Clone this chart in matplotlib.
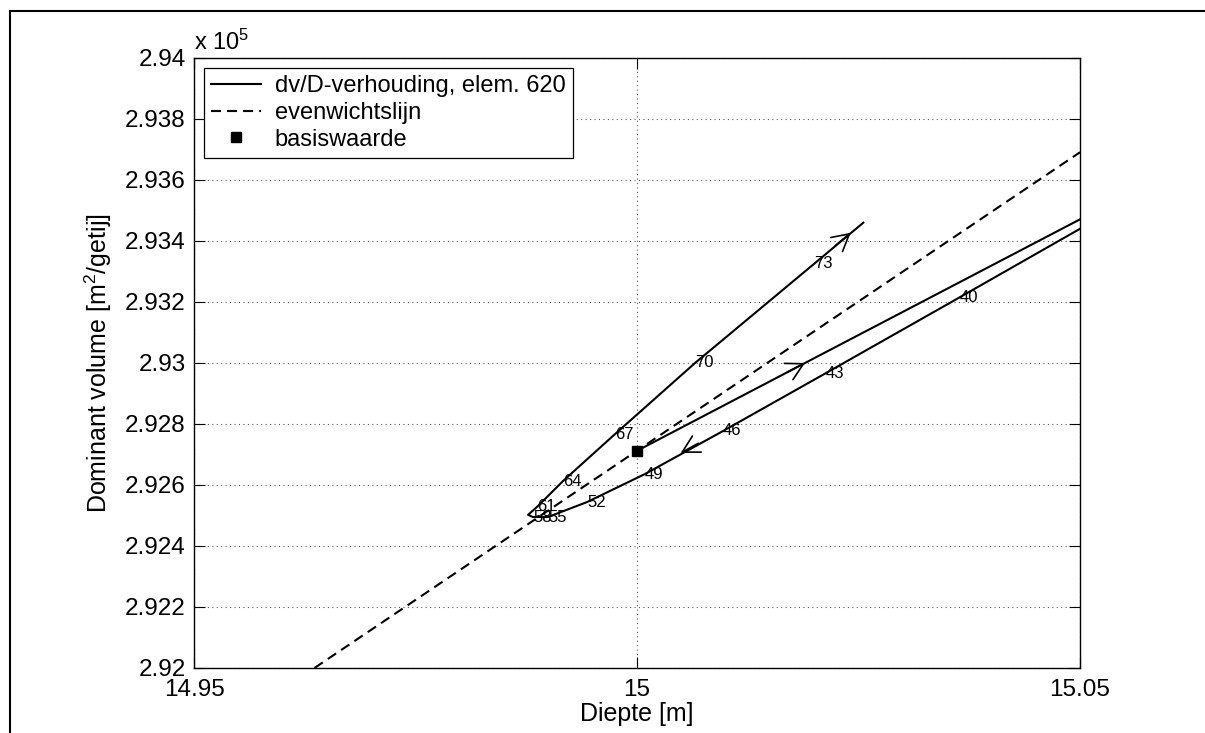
import numpy as np
import matplotlib
matplotlib.use('Agg')
import matplotlib.pyplot as plt
from matplotlib.lines import Line2D

plt.rcParams['font.family'] = ['Liberation Sans', 'DejaVu Sans']
plt.rcParams['mathtext.fontset'] = 'custom'
plt.rcParams['mathtext.rm'] = 'Liberation Sans'
plt.rcParams['mathtext.it'] = 'Liberation Sans:italic'

# dv/D trajectory, element 620 (depth [m], dominant volume [x 1e5 m2/getij])
traj_depth = [15.0, 15.01896, 15.05, 15.06,
              15.06, 15.05,
              15.03646, 15.02133, 15.00971, 15.00090, 14.99436, 14.98995,
              14.98826, 14.98770, 14.98871, 14.99165, 14.99752, 15.00655,
              15.01998, 15.02554]
traj_volume = [2.92712, 2.93000, 2.93471, 2.93621,
               2.93606, 2.93440,
               2.93216, 2.92967, 2.92777, 2.92636, 2.92544, 2.92495,
               2.92495, 2.92502, 2.92528, 2.92613, 2.92767, 2.93000,
               2.93325, 2.93460]
traj_labels = ['', '', '', '',
               '', '',
               '40', '43', '46', '49', '52', '55',
               '58', '', '61', '64', '67', '70',
               '73', '']

# equilibrium line
eq_depth = [14.9636, 15.05]
eq_volume = [2.92, 2.93691]

# base value
base_depth = [15.0]
base_volume = [2.92712]

# direction arrows on the trajectory
arrow_depth = [15.01896, 15.00493, 15.02412]
arrow_volume = [2.93000, 2.92705, 2.93427]

xticks = [14.95, 15.0, 15.05]
xtick_labels = ['14.95', '15', '15.05']
yticks = [2.92, 2.922, 2.924, 2.926, 2.928, 2.93, 2.932, 2.934, 2.936, 2.938, 2.94]
ytick_labels = ['2.92', '2.922', '2.924', '2.926', '2.928', '2.93',
                '2.932', '2.934', '2.936', '2.938', '2.94']

fig = plt.figure(figsize=(12.05, 7.33), dpi=100)
ax = fig.add_axes([0.161, 0.0887, 0.7353, 0.8322])

ax.plot(traj_depth, traj_volume, '-', color='k', lw=1.5,
        label='dv/D-verhouding, elem. 620')
ax.plot(eq_depth, eq_volume, '--', color='k', lw=1.5, dashes=(4.8, 2.9),
        label='evenwichtslijn')
ax.plot(base_depth, base_volume, 's', color='k', ms=7, label='basiswaarde')

for d, v, lab in zip(traj_depth, traj_volume, traj_labels):
    if lab:
        ax.text(d, v, lab, fontsize=12, ha='left', va='center')

ax.set_xlim(14.95, 15.05)
ax.set_ylim(2.92, 2.94)

# arrows along the direction of travel
pts = ax.transData.transform(np.column_stack([traj_depth, traj_volume]))
for d, v in zip(arrow_depth, arrow_volume):
    p = ax.transData.transform((d, v))
    best, seg = None, 0
    for i in range(len(pts) - 1):
        a, b = pts[i], pts[i + 1]
        ab = b - a
        t = np.clip(np.dot(p - a, ab) / np.dot(ab, ab), 0, 1)
        dist = np.linalg.norm(a + t * ab - p)
        if best is None or dist < best:
            best, seg = dist, i
    vec = np.array([traj_depth[seg + 1] - traj_depth[seg],
                    traj_volume[seg + 1] - traj_volume[seg]])
    vec = vec / np.linalg.norm(pts[seg + 1] - pts[seg]) * 20
    ax.annotate('', xy=(d, v), xytext=(d - vec[0], v - vec[1]),
                arrowprops=dict(arrowstyle='->,head_length=0.6,head_width=0.33',
                                color='k', lw=1.2, shrinkA=0, shrinkB=0,
                                mutation_scale=20))

ax.set_xticks(xticks)
ax.set_xticklabels(xtick_labels)
ax.set_yticks(yticks)
ax.set_yticklabels(ytick_labels)
ax.tick_params(direction='in', length=8, width=0.8, labelsize=17.5,
               top=True, right=True)
ax.tick_params(axis='y', pad=6)
ax.tick_params(axis='x', pad=8)
ax.grid(True, linestyle=(0, (1, 3)), color='0.35', lw=0.8)
for s in ax.spines.values():
    s.set_linewidth(1.0)

ax.set_xlabel('Diepte [m]', fontsize=18)
ax.xaxis.set_label_coords(0.5, -0.055)
ax.xaxis.label.set_va('top')
ax.set_ylabel('Dominant volume [m$^2$/getij]', fontsize=18)
ax.yaxis.set_label_coords(-0.09, 0.5)

ax.text(0.0, 1.014, 'x 10$^{5}$', transform=ax.transAxes, fontsize=17,
        ha='left', va='baseline')

leg = ax.legend(loc='upper left', bbox_to_anchor=(0.0113, 0.9836),
                borderaxespad=0, fontsize=17, handlelength=2.1,
                handletextpad=0.6, labelspacing=0.2, borderpad=0.3,
                fancybox=False, framealpha=1, edgecolor='k')
leg.get_frame().set_linewidth(0.9)

# scanned page border
fig.add_artist(Line2D([0.0083, 1.0], [0.985, 0.985], color='k', lw=1.5))
fig.add_artist(Line2D([0.0083, 0.0083], [0.0, 0.985], color='k', lw=1.5))

fig.savefig('out.png', dpi=100)
